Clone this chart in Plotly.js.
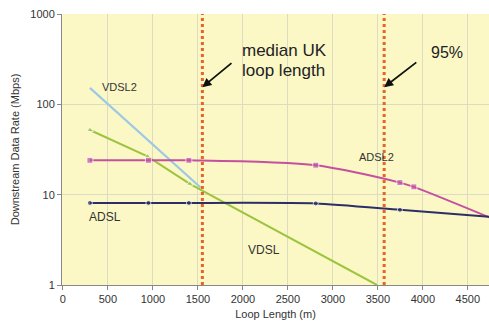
<!DOCTYPE html>
<html>
<head>
<meta charset="utf-8">
<script src="https://cdn.plot.ly/plotly-3.0.1.min.js"></script>
<style>html,body{margin:0;padding:0;background:#fff;}#chart{width:489px;height:329px;}</style>
</head>
<body>
<div id="chart"></div>
<script>
// Data
const vdsl2X = [300, 1530];
const vdsl2Y = [152, 12];
const vdslX = [300, 940, 1410, 3490];
const vdslY = [52, 26.5, 13.2, 1];
const adsl2X = [300, 950, 1400, 2810, 3745, 3900, 4740];
const adsl2Y = [24, 24, 24, 21.2, 13.6, 12.2, 5.6];
const adslX = [300, 950, 1400, 2810, 3745, 4740];
const adslY = [8.1, 8.1, 8.1, 8.0, 6.8, 5.7];
const medianLoop = 1550;
const pct95Loop = 3570;
const yTickVals = [1, 10, 100, 1000];
const yTickText = ['1', '10', '100', '1000'];
const xTickVals = [0, 500, 1000, 1500, 2000, 2500, 3000, 3500, 4000, 4500];

const font = 'Liberation Sans, Arial, sans-serif';

const traces = [
  {x: vdsl2X, y: vdsl2Y, mode: 'lines', line: {color: '#9cc9e3', width: 2.2}},
  {x: vdslX, y: vdslY, mode: 'lines+markers', line: {color: '#9cc43e', width: 2},
   marker: {symbol: 'triangle-up', size: [6, 6, 6, 0], color: '#9cc43e'}},
  {x: adsl2X, y: adsl2Y, mode: 'lines+markers', line: {color: '#c4509e', width: 2, shape: 'spline', smoothing: 0.8},
   marker: {symbol: 'square', size: [6, 6, 6, 6, 6, 6, 0], color: '#c4509e'}},
  {x: adslX, y: adslY, mode: 'lines+markers', line: {color: '#2b2f66', width: 2, shape: 'spline', smoothing: 0.6},
   marker: {symbol: 'circle', size: [5, 5, 5, 5, 5, 0], color: '#2b2f66'}},
  {x: [medianLoop, medianLoop], y: [1, 1000], mode: 'lines', line: {color: '#e8622a', width: 3, dash: 'dot'}},
  {x: [pct95Loop, pct95Loop], y: [1, 1000], mode: 'lines', line: {color: '#e8622a', width: 3, dash: 'dot'}}
];

const lbl = (text, x, y, size) => ({text, x, y: Math.log10(y), xref: 'x', yref: 'y', showarrow: false,
  font: {family: font, size: size, color: '#333'}});

const layout = {
  width: 489, height: 329,
  margin: {l: 62, r: 0, t: 14, b: 44},
  paper_bgcolor: '#ffffff',
  plot_bgcolor: '#fbf8c6',
  showlegend: false,
  font: {family: font, size: 11, color: '#333'},
  xaxis: {
    range: [-10, 4735], tickvals: xTickVals, showgrid: true, gridcolor: '#dcdcc4', gridwidth: 1,
    zeroline: false, showline: true, linecolor: '#888', linewidth: 1, ticks: 'outside', ticklen: 4, tickcolor: '#888',
    tickfont: {family: font, size: 11, color: '#333'},
    title: {text: 'Loop Length (m)', font: {family: font, size: 11, color: '#333'}, standoff: 6}
  },
  yaxis: {
    type: 'log', range: [0, 3], tickvals: yTickVals, ticktext: yTickText, showgrid: true, gridcolor: '#dcdcc4',
    zeroline: false, showline: true, linecolor: '#888', linewidth: 1, ticks: 'outside', ticklen: 4, tickcolor: '#888',
    tickfont: {family: font, size: 11, color: '#333'},
    title: {text: 'Downstream Data Rate (Mbps)', font: {family: font, size: 11, color: '#333'}, standoff: 8}
  },
  annotations: [
    lbl('VDSL2', 633, 156, 11),
    lbl('ADSL2', 3489, 26, 11),
    lbl('ADSL', 467, 5.66, 12),
    lbl('VDSL', 2233, 2.44, 12),
    {text: 'median UK', x: 1967, y: Math.log10(390), xref: 'x', yref: 'y', xanchor: 'left', showarrow: false,
     font: {family: font, size: 17, color: '#222'}},
    {text: 'loop length', x: 1967, y: Math.log10(236), xref: 'x', yref: 'y', xanchor: 'left', showarrow: false,
     font: {family: font, size: 17, color: '#222'}},
    {text: '95%', x: 4267, y: Math.log10(371), xref: 'x', yref: 'y', showarrow: false,
     font: {family: font, size: 16, color: '#222'}},
    {text: '', x: medianLoop, y: Math.log10(155), xref: 'x', yref: 'y', ax: 1890, ay: Math.log10(295), axref: 'x', ayref: 'y',
     showarrow: true, arrowhead: 2, arrowsize: 1, arrowwidth: 1.8, arrowcolor: '#111'},
    {text: '', x: pct95Loop, y: Math.log10(155), xref: 'x', yref: 'y', ax: 3944, ay: Math.log10(300), axref: 'x', ayref: 'y',
     showarrow: true, arrowhead: 2, arrowsize: 1, arrowwidth: 1.8, arrowcolor: '#111'}
  ]
};

Plotly.newPlot('chart', traces, layout, {displayModeBar: false, staticPlot: true});
</script>
</body>
</html>
